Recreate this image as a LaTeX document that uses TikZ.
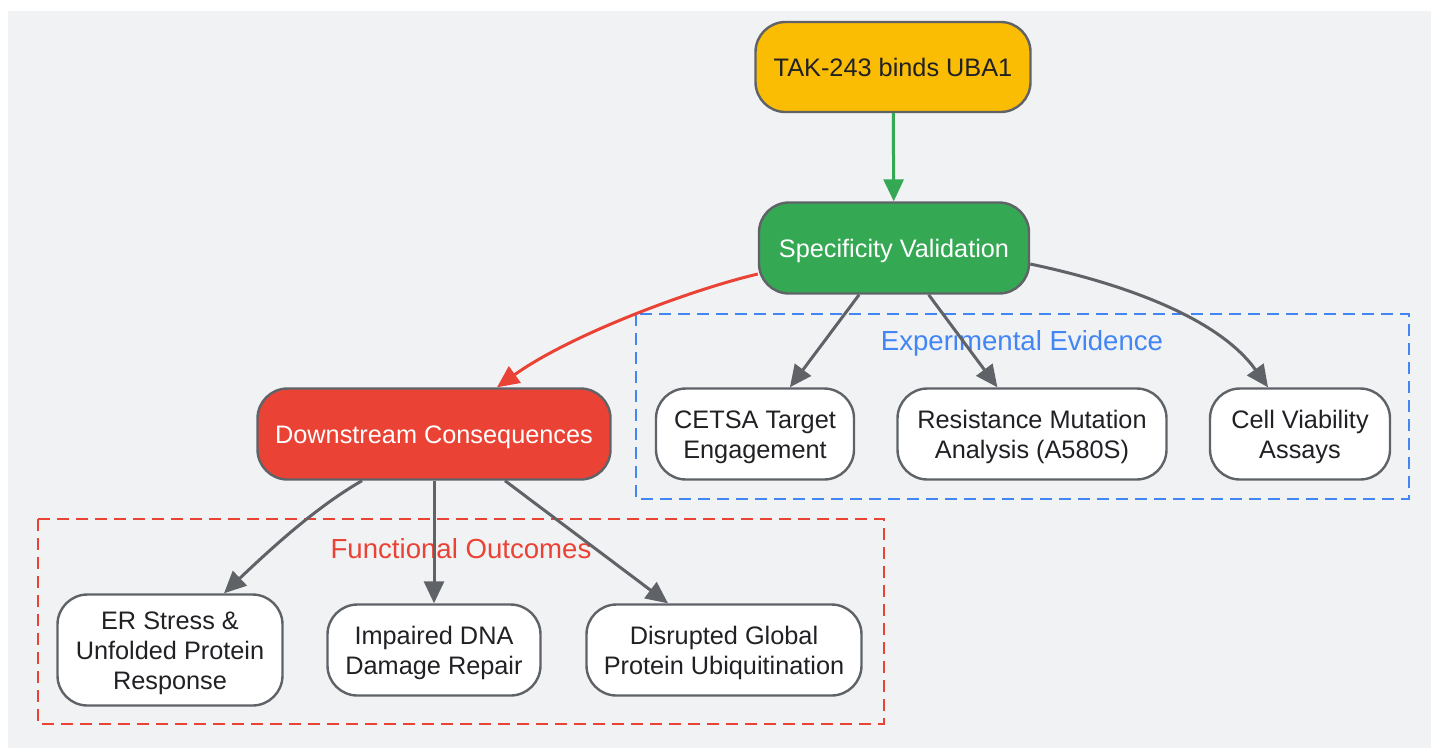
\documentclass[tikz,border=0pt]{standalone}
\usepackage{fontspec}
\setmainfont{Liberation Sans}
\usetikzlibrary{arrows.meta,calc}
\definecolor{bgc}{HTML}{F1F2F4}
\definecolor{edgec}{HTML}{5F6368}
\definecolor{txtc}{HTML}{202124}
\definecolor{yel}{HTML}{FBBC04}
\definecolor{grn}{HTML}{34A853}
\definecolor{rd}{HTML}{EA4335}
\definecolor{blu}{HTML}{4285F4}
\newcommand\mytopstrut{\rule{0pt}{24pt}}
\newcommand\mybotstrut{\rule[-5pt]{0pt}{5pt}}
\tikzset{
  box/.style={draw=edgec, line width=2.4pt, rounded corners=30pt, align=center,
    font=\fontsize{25.3}{30}\selectfont, text=txtc, inner sep=0pt},
  wbox/.style={box, fill=white},
  conn/.style={draw=edgec, line width=3pt, -{Triangle[length=22pt,width=20pt]}},
  grp/.style={dash pattern=on 12pt off 7pt, line width=2.5pt},
  grplabel/.style={font=\fontsize{27.6}{32}\selectfont, inner sep=0pt}
}
\begin{document}
\begin{tikzpicture}[x=1pt,y=-1pt]
\useasboundingbox (0,0) rectangle (1431,748);
\fill[bgc] (8,11) rectangle (1431,748);
% groups
\draw[grp, draw=blu] (636,314) rectangle (1409,499);
\node[grplabel, text=blu] (lbe) at (1022,343) {Experimental Evidence};
\draw[grp, draw=rd] (38,519) rectangle (884,724);
\node[grplabel, text=rd] (lbf) at (461,549) {Functional Outcomes};
% nodes
\node[box, fill=yel, minimum width=275pt, minimum height=90pt] (tak) at (893,67) {\mytopstrut TAK-243 binds UBA1\mybotstrut};
\node[box, fill=grn, text=white, minimum width=270pt, minimum height=91pt] (spec) at (894,248) {\mytopstrut Specificity Validation\mybotstrut};
\node[box, fill=rd, text=white, minimum width=353pt, minimum height=91pt] (ds) at (434,434) {\mytopstrut Downstream Consequences\mybotstrut};
\node[wbox, minimum width=198pt, minimum height=91pt] (cetsa) at (755,434) {\mytopstrut CETSA Target\\Engagement\mybotstrut};
\node[wbox, minimum width=269pt, minimum height=91pt] (res) at (1032,434) {\mytopstrut Resistance Mutation\\Analysis (A580S)\mybotstrut};
\node[wbox, minimum width=180pt, minimum height=91pt] (cell) at (1300,434) {\mytopstrut Cell Viability\\Assays\mybotstrut};
\node[wbox, minimum width=225pt, minimum height=111pt] (er) at (170,650) {\mytopstrut ER Stress \&\\Unfolded Protein\\Response\mybotstrut};
\node[wbox, minimum width=213pt, minimum height=91pt] (dna) at (434,650) {\mytopstrut Impaired DNA\\Damage Repair\mybotstrut};
\node[wbox, minimum width=275pt, minimum height=91pt] (dis) at (724,650) {\mytopstrut Disrupted Global\\Protein Ubiquitination\mybotstrut};
% connectors
\draw[conn, draw=grn] (tak) -- (spec);
\draw[conn, draw=rd] ($(spec.west)+(0,26)$) .. controls (690,290) and (570,335) .. ($(ds.north)+(63,0)$);
\draw[conn] (spec) -- (cetsa);
\draw[conn] (spec) -- (res);
\draw[conn] ($(spec.east)+(0,16)$) .. controls (1130,285) and (1220,320) .. ($(cell.north)+(-32,0)$);
\draw[conn] ($(ds.south)+(-72,0)$) .. controls (320,505) and (280,540) .. ($(er.north)+(54,0)$);
\draw[conn] (ds) -- (dna);
\draw[conn] ($(ds.south)+(71,0)$) -- ($(dis.north)+(-56,0)$);
\end{tikzpicture}
\end{document}
